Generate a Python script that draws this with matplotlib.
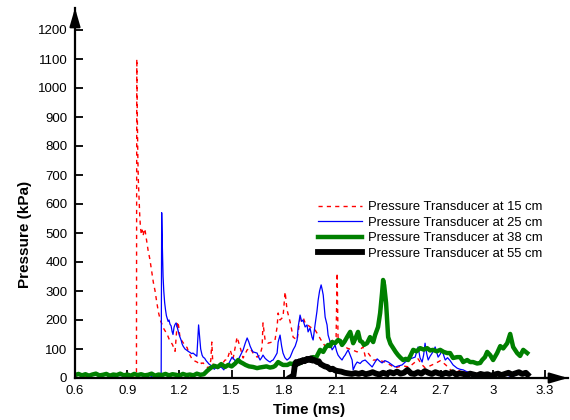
#!/usr/bin/env python3
"""
Pressure histories at four transducer positions (15, 25, 38, 55 cm).
"""

import matplotlib
matplotlib.use('Agg')
import matplotlib.pyplot as plt

# ---- data (time in ms, pressure in kPa) ----
t15 = [0.60, 0.63, 0.66, 0.69, 0.72, 0.75, 0.78, 0.81, 0.84, 0.87, 0.90, 0.93, 0.953,
       0.955, 0.958, 0.961, 0.964, 0.968, 0.972, 0.976, 0.981, 0.986, 0.991, 0.996, 1.001,
       1.006, 1.012, 1.020, 1.030, 1.040, 1.050, 1.060, 1.070, 1.080, 1.090, 1.100, 1.110,
       1.120, 1.130, 1.140, 1.150, 1.160, 1.170, 1.175, 1.182, 1.188, 1.195, 1.203, 1.212,
       1.221, 1.232, 1.244, 1.252, 1.261, 1.270, 1.278, 1.290, 1.301, 1.310, 1.318, 1.327,
       1.336, 1.348, 1.359, 1.366, 1.372, 1.380, 1.386, 1.390, 1.394, 1.404, 1.416, 1.425,
       1.433, 1.445, 1.462, 1.474, 1.491, 1.508, 1.531, 1.548, 1.566, 1.589, 1.606, 1.623,
       1.646, 1.663, 1.675, 1.680, 1.692, 1.709, 1.732, 1.749, 1.761, 1.767, 1.778, 1.795,
       1.807, 1.818, 1.836, 1.853, 1.876, 1.893, 1.910, 1.922, 1.951, 1.979, 1.997, 2.020,
       2.037, 2.066, 2.083, 2.100, 2.106, 2.111, 2.134, 2.163, 2.192, 2.221, 2.255, 2.267,
       2.284, 2.313, 2.341, 2.382, 2.410, 2.439, 2.480, 2.520, 2.554, 2.571, 2.590, 2.611,
       2.640, 2.669, 2.700, 2.730, 2.775, 2.810, 2.850, 2.890, 2.930, 2.970, 3.000, 3.040,
       3.080, 3.100]
p15 = [8, 12, 6, 11, 15, 7, 12, 8, 13, 9, 12, 7, 9,
       1100, 900, 760, 680, 620, 560, 520, 495, 510, 490, 505, 515,
       495, 470, 440, 410, 370, 330, 300, 260, 225, 200, 185, 170,
       160, 150, 135, 125, 115, 100, 92, 150, 195, 180, 140, 130,
       122, 112, 105, 90, 78, 68, 62, 58, 55, 50, 56, 50,
       52, 44, 38, 34, 40, 60, 124, 70, 45, 38, 30, 35,
       42, 48, 62, 62, 97, 66, 141, 107, 69, 97, 103, 86,
       72, 79, 107, 190, 131, 120, 124, 131, 176, 224, 200, 210,
       297, 235, 193, 141, 131, 207, 210, 190, 176, 166, 148, 124,
       110, 124, 131, 141, 362, 141, 120, 103, 97, 90, 107, 75,
       86, 62, 62, 55, 45, 35, 42, 38, 55, 66, 48, 35,
       42, 50, 60, 45, 17, 25, 20, 15, 18, 12, 14, 10,
       12, 8]

t25 = [0.60, 0.62, 0.64, 0.66, 0.68, 0.70, 0.72, 0.74, 0.76, 0.78, 0.80, 0.82, 0.84,
       0.86, 0.88, 0.90, 0.92, 0.94, 0.96, 0.98, 1.00, 1.02, 1.03, 1.04, 1.06, 1.08, 1.095,
       1.098, 1.102, 1.106, 1.110, 1.115, 1.120, 1.125, 1.130, 1.135, 1.140, 1.146, 1.152,
       1.158, 1.163, 1.169, 1.175, 1.181, 1.186, 1.192, 1.198, 1.203, 1.210, 1.215, 1.221,
       1.232, 1.244, 1.250, 1.261, 1.270, 1.278, 1.290, 1.300, 1.305, 1.310, 1.316, 1.322,
       1.330, 1.336, 1.345, 1.353, 1.364, 1.370, 1.380, 1.387, 1.400, 1.410, 1.420, 1.433,
       1.445, 1.455, 1.462, 1.474, 1.488, 1.502, 1.520, 1.537, 1.552, 1.566, 1.578, 1.589,
       1.598, 1.606, 1.615, 1.623, 1.635, 1.646, 1.655, 1.663, 1.672, 1.680, 1.692, 1.703,
       1.712, 1.721, 1.730, 1.738, 1.750, 1.761, 1.767, 1.778, 1.787, 1.795, 1.806, 1.818,
       1.827, 1.836, 1.845, 1.853, 1.865, 1.876, 1.882, 1.893, 1.902, 1.910, 1.922, 1.933,
       1.939, 1.950, 1.962, 1.968, 1.979, 1.990, 1.997, 2.005, 2.014, 2.020, 2.026, 2.037,
       2.048, 2.054, 2.066, 2.077, 2.086, 2.094, 2.103, 2.111, 2.122, 2.134, 2.143, 2.152,
       2.160, 2.169, 2.180, 2.192, 2.198, 2.210, 2.221, 2.238, 2.250, 2.267, 2.284, 2.295,
       2.307, 2.324, 2.336, 2.350, 2.364, 2.380, 2.399, 2.420, 2.439, 2.460, 2.479, 2.497,
       2.514, 2.535, 2.554, 2.563, 2.571, 2.582, 2.594, 2.603, 2.611, 2.620, 2.629, 2.640,
       2.652, 2.660, 2.669, 2.678, 2.686, 2.698, 2.709, 2.718, 2.727, 2.740, 2.755, 2.772,
       2.795, 2.812, 2.830, 2.850, 2.870, 2.890, 2.910, 2.930, 2.945, 2.970, 3.000, 3.025,
       3.043, 3.060, 3.080, 3.100, 3.120]
p25 = [10, 14, 8, 12, 6, 10, 13, 7, 11, 9, 12, 6, 10,
       8, 12, 7, 11, 9, 12, 8, 10, 4, 1, 6, 9, 5, 7,
       570, 450, 350, 300, 260, 235, 215, 205, 195, 200, 185, 180,
       160, 150, 175, 185, 190, 178, 165, 150, 141, 130, 118, 110,
       100, 95, 92, 88, 84, 86, 80, 75, 130, 183, 140, 100,
       79, 72, 68, 60, 52, 48, 44, 40, 30, 36, 32, 38,
       35, 28, 38, 40, 55, 72, 60, 62, 80, 97, 120, 138,
       125, 110, 98, 90, 88, 86, 72, 62, 70, 79, 68, 62,
       58, 55, 60, 62, 74, 86, 124, 148, 110, 86, 70, 62,
       66, 72, 85, 97, 110, 131, 176, 217, 195, 200, 176, 183,
       159, 172, 140, 131, 183, 230, 269, 300, 321, 305, 286, 210,
       183, 148, 124, 97, 105, 114, 92, 79, 70, 62, 72, 79,
       88, 97, 80, 62, 28, 45, 55, 50, 58, 62, 52, 45,
       38, 55, 66, 58, 52, 60, 55, 46, 38, 42, 45, 55,
       62, 68, 72, 90, 107, 70, 55, 80, 120, 85, 62, 75,
       86, 95, 107, 88, 72, 82, 97, 78, 62, 70, 60, 45,
       34, 30, 28, 22, 17, 15, 14, 12, 10, 12, 9, 14,
       17, 8, 10, 6, 5]

t38 = [0.60, 0.62, 0.64, 0.66, 0.68, 0.70, 0.72, 0.74, 0.76, 0.78, 0.80, 0.82, 0.84,
       0.86, 0.88, 0.90, 0.92, 0.94, 0.96, 0.98, 1.00, 1.02, 1.04, 1.06, 1.08, 1.10,
       1.12, 1.14, 1.16, 1.18, 1.20, 1.22, 1.24, 1.26, 1.28, 1.30, 1.32, 1.34, 1.36,
       1.38, 1.40, 1.42, 1.44, 1.462, 1.48, 1.50, 1.52, 1.537, 1.55, 1.566, 1.58, 1.60,
       1.623, 1.646, 1.66, 1.68, 1.70, 1.72, 1.738, 1.75, 1.767, 1.78, 1.795, 1.82,
       1.836, 1.85, 1.87, 1.89, 1.91, 1.933, 1.95, 1.968, 1.985, 2.008, 2.026, 2.040,
       2.054, 2.066, 2.077, 2.094, 2.111, 2.123, 2.134, 2.148, 2.163, 2.181, 2.198, 2.212,
       2.226, 2.238, 2.250, 2.260, 2.278, 2.295, 2.313, 2.324, 2.341, 2.353, 2.364, 2.370,
       2.376, 2.387, 2.399, 2.412, 2.428, 2.442, 2.456, 2.470, 2.485, 2.500, 2.514, 2.528,
       2.543, 2.562, 2.583, 2.603, 2.623, 2.640, 2.657, 2.678, 2.698, 2.718, 2.738, 2.755,
       2.772, 2.795, 2.813, 2.830, 2.853, 2.870, 2.887, 2.910, 2.928, 2.939, 2.955, 2.968,
       2.985, 3.002, 3.025, 3.043, 3.060, 3.083, 3.100, 3.117, 3.140, 3.157, 3.175, 3.198]
p38 = [10, 14, 9, 13, 8, 12, 15, 9, 11, 14, 8, 12, 10,
       15, 9, 12, 8, 14, 10, 13, 9, 11, 15, 8, 12, 10,
       14, 9, 13, 11, 8, 14, 10, 12, 9, 15, 11, 13, 25,
       35, 42, 38, 48, 38, 45, 40, 50, 62, 55, 50, 45, 40,
       38, 34, 36, 38, 40, 36, 38, 42, 55, 50, 45, 45,
       50, 48, 55, 50, 58, 62, 66, 72, 70, 97, 90, 105,
       114, 110, 124, 120, 131, 128, 114, 125, 141, 159, 120, 138,
       159, 128, 124, 114, 120, 141, 124, 148, 176, 224, 293, 338,
       320, 259, 141, 118, 103, 90, 79, 70, 62, 66, 62, 78,
       97, 92, 103, 98, 103, 95, 97, 92, 97, 90, 86, 86,
       69, 72, 72, 55, 62, 55, 55, 50, 52, 62, 72, 90,
       79, 62, 86, 110, 102, 120, 152, 107, 86, 76, 97, 86]

t55 = [1.836, 1.845, 1.855, 1.862, 1.870, 1.880, 1.890, 1.900, 1.910, 1.920, 1.933,
       1.945, 1.955, 1.965, 1.975, 1.990, 2.000, 2.010, 2.020, 2.035, 2.050, 2.066,
       2.080, 2.095, 2.110, 2.130, 2.150, 2.170, 2.190, 2.210, 2.230, 2.250, 2.270,
       2.290, 2.310, 2.330, 2.350, 2.370, 2.390, 2.410, 2.430, 2.450, 2.470, 2.490,
       2.510, 2.530, 2.550, 2.570, 2.590, 2.610, 2.630, 2.650, 2.670, 2.690, 2.710,
       2.730, 2.750, 2.770, 2.790, 2.810, 2.830, 2.850, 2.870, 2.890, 2.910, 2.930,
       2.950, 2.970, 2.990, 3.010, 3.030, 3.050, 3.070, 3.090, 3.110, 3.130, 3.150,
       3.170, 3.190, 3.200]
p55 = [2, 5, 8, 40, 55, 50, 58, 55, 62, 58, 66,
       62, 68, 60, 62, 55, 58, 48, 45, 40, 38, 30,
       32, 26, 24, 22, 18, 16, 14, 17, 14, 18, 13,
       16, 20, 15, 12, 18, 14, 20, 16, 22, 15, 18,
       28, 16, 14, 20, 15, 24, 18, 14, 20, 16, 13,
       18, 14, 20, 12, 16, 14, 10, 15, 12, 9, 14,
       11, 13, 8, 12, 15, 10, 14, 18, 12, 16, 20,
       14, 18, 12]

labels = ['Pressure Transducer at 15 cm', 'Pressure Transducer at 25 cm',
          'Pressure Transducer at 38 cm', 'Pressure Transducer at 55 cm']

x_ticks = [0.6, 0.9, 1.2, 1.5, 1.8, 2.1, 2.4, 2.7, 3.0, 3.3]
x_tick_labels = ['0.6', '0.9', '1.2', '1.5', '1.8', '2.1', '2.4', '2.7', '3', '3.3']
y_ticks = list(range(0, 1300, 100))

plt.rcParams['font.family'] = ['Liberation Sans', 'DejaVu Sans']

fig = plt.figure(figsize=(5.7, 4.2), dpi=100)
ax = fig.add_axes([75 / 570, 42 / 420, 493 / 570, 370 / 420])

ax.plot(t15, p15, color='#ff0000', lw=1.0, dashes=(3, 3), label=labels[0])
ax.plot(t25, p25, color='#0000ff', lw=0.9, label=labels[1])
ax.plot(t38, p38, color='#008000', lw=3.2, label=labels[2])
ax.plot(t55, p55, color='black', lw=4.2, label=labels[3])

ax.set_xlim(0.6, 3.3 + 23 / 174)
ax.set_ylim(0, 370 / 0.29)

ax.set_xticks(x_ticks)
ax.set_xticklabels(x_tick_labels)
ax.set_yticks(y_ticks)

for side in ['top', 'right']:
    ax.spines[side].set_visible(False)
for side in ['left', 'bottom']:
    ax.spines[side].set_linewidth(1.6)

ax.tick_params(axis='both', direction='in', length=6, width=1.3, labelsize=9.5)
ax.tick_params(axis='x', pad=5)
ax.tick_params(axis='y', pad=5.5)

# arrow heads at the ends of both axes
arrow = dict(arrowstyle='-|>,head_length=1.1,head_width=0.32', color='black',
             lw=1.6, shrinkA=0, shrinkB=0, mutation_scale=10)
ax.annotate('', xy=(1, 0), xytext=(0.95, 0), xycoords='axes fraction', arrowprops=arrow)
ax.annotate('', xy=(0, 1), xytext=(0, 0.95), xycoords='axes fraction', arrowprops=arrow)

ax.set_xlabel('Time (ms)', fontsize=11, fontweight='bold')
ax.set_ylabel('Pressure (kPa)', fontsize=11, fontweight='bold')
ax.xaxis.set_label_coords(0.475, -0.068)
ax.yaxis.set_label_coords(-0.088, 0.389)

ax.legend(loc='upper left', bbox_to_anchor=(318 / 570, 1 - 201 / 420),
          bbox_transform=fig.transFigure, frameon=False, fontsize=9.4,
          handlelength=3.4, handletextpad=0.45, labelspacing=0.26,
          borderpad=0, borderaxespad=0)

fig.savefig('out.png', dpi=100)
plt.close(fig)
